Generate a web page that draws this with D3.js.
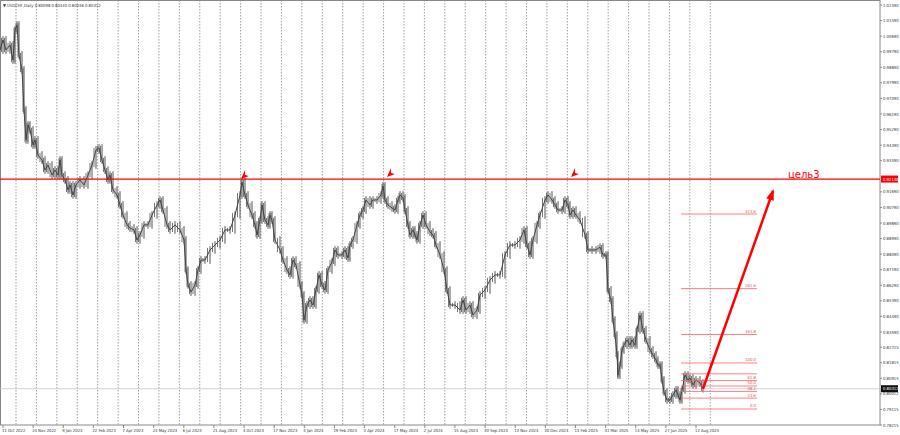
<!DOCTYPE html>
<html><head><meta charset="utf-8">
<script src="https://cdn.jsdelivr.net/npm/d3@7"></script>
<style>body{margin:0;background:#fff}svg{display:block}</style></head>
<body><svg id="c" width="900" height="435"></svg>
<script>
// [bar index, close]
const closes = [[0,0.9989],[3,1.0047],[6,0.9989],[10,1.0018],[13,0.9931],[15,1.0105],[17,1.0133],[19,0.9960],[22,0.9873],[24,0.9642],[26,0.9469],[28,0.9555],[30,0.9527],[33,0.9440],[35,0.9469],[38,0.9382],[42,0.9353],[45,0.9295],[48,0.9324],[52,0.9266],[55,0.9295],[58,0.9266],[60,0.9353],[62,0.9266],[65,0.9238],[68,0.9180],[70,0.9209],[73,0.9151],[76,0.9209],[80,0.9238],[84,0.9209],[88,0.9266],[92,0.9324],[96,0.9411],[99,0.9423],[102,0.9353],[105,0.9295],[108,0.9238],[110,0.9266],[113,0.9180],[117,0.9151],[120,0.9093],[123,0.9035],[127,0.8978],[130,0.8960],[134,0.8949],[137,0.8891],[140,0.8920],[144,0.8978],[148,0.8978],[152,0.9035],[157,0.9093],[160,0.9122],[163,0.9064],[167,0.8978],[170,0.8949],[175,0.8978],[180,0.8949],[184,0.8891],[186,0.8717],[188,0.8631],[191,0.8590],[195,0.8631],[198,0.8717],[201,0.8775],[205,0.8775],[210,0.8833],[215,0.8862],[220,0.8891],[225,0.8949],[230,0.8949],[235,0.9035],[240,0.9151],[242,0.9226],[245,0.9151],[248,0.9093],[252,0.9035],[255,0.8978],[257,0.8920],[260,0.9006],[262,0.9093],[265,0.9006],[268,0.8978],[270,0.9035],[272,0.9006],[275,0.8891],[280,0.8833],[283,0.8775],[287,0.8717],[290,0.8689],[293,0.8775],[296,0.8746],[300,0.8631],[302,0.8573],[304,0.8428],[307,0.8515],[310,0.8544],[313,0.8515],[316,0.8602],[319,0.8689],[322,0.8631],[325,0.8602],[328,0.8717],[332,0.8764],[335,0.8833],[338,0.8804],[342,0.8804],[345,0.8833],[348,0.8787],[350,0.8862],[353,0.8891],[357,0.8978],[360,0.9035],[363,0.9064],[366,0.9122],[370,0.9093],[373,0.9122],[377,0.9122],[381,0.9151],[383,0.9203],[385,0.9122],[388,0.9093],[392,0.9076],[395,0.9064],[398,0.9122],[400,0.9151],[403,0.9134],[405,0.9064],[408,0.8978],[410,0.8920],[413,0.8949],[415,0.8920],[417,0.8891],[420,0.8978],[423,0.9035],[426,0.8978],[430,0.8937],[433,0.8920],[436,0.8862],[440,0.8804],[444,0.8717],[447,0.8602],[450,0.8515],[455,0.8515],[460,0.8486],[463,0.8544],[466,0.8486],[470,0.8515],[473,0.8457],[477,0.8486],[480,0.8573],[485,0.8602],[490,0.8660],[495,0.8689],[500,0.8689],[505,0.8804],[510,0.8862],[515,0.8862],[520,0.8891],[524,0.8949],[527,0.8862],[530,0.8804],[533,0.8891],[537,0.8978],[540,0.9035],[545,0.9122],[548,0.9151],[552,0.9122],[555,0.9093],[558,0.9064],[562,0.9064],[565,0.9122],[568,0.9093],[570,0.9035],[573,0.9064],[576,0.9035],[580,0.9006],[585,0.8920],[588,0.8833],[592,0.8833],[596,0.8833],[600,0.8850],[603,0.8804],[606,0.8804],[608,0.8602],[611,0.8544],[613,0.8428],[615,0.8342],[617,0.8226],[618,0.8110],[620,0.8168],[622,0.8255],[624,0.8284],[627,0.8313],[630,0.8284],[632,0.8313],[635,0.8284],[637,0.8371],[640,0.8457],[643,0.8371],[646,0.8313],[650,0.8255],[653,0.8226],[656,0.8197],[658,0.8168],[660,0.8168],[662,0.8082],[664,0.8012],[667,0.7966],[670,0.7966],[673,0.7995],[676,0.8024],[678,0.7995],[680,0.7966],[682,0.8024],[685,0.8110],[688,0.8082],[690,0.8093],[693,0.8053],[696,0.8082],[700,0.8064],[703,0.8031]];
const priceTicks = [1.02490,1.01590,1.00690,0.99790,0.98890,0.97990,0.97090,0.96190,0.95290,0.94390,0.93490,0.91690,0.90790,0.89890,0.88990,0.88090,0.87190,0.86290,0.85390,0.84490,0.83590,0.82715,0.81815,0.80915,0.80012,0.79115,0.78215];
const dateLabels = ["11 Oct 2022","24 Nov 2022","9 Jan 2023","22 Feb 2023","7 Apr 2023","23 May 2023","6 Jul 2023","21 Aug 2023","4 Oct 2023","17 Nov 2023","4 Jan 2024","19 Feb 2024","3 Apr 2024","17 May 2024","2 Jul 2024","15 Aug 2024","30 Sep 2024","13 Nov 2024","30 Dec 2024","13 Feb 2025","31 Mar 2025","14 May 2025","27 Jun 2025","12 Aug 2025"];
const fibLevels = [0,23.6,38.2,50,61.8,76.4,100,161.8,261.6,423.6];
const fibLabelled = ["0.0","23.6","38.2","50.0","61.8","","100.0","161.8","261.6","423.6"];
const fibLow = 0.7914, fibHigh = 0.8180;
const resistance = 0.9243, resistanceLabel = "0.92138";
const lastPrice = 0.80312;
const peaks = [[244,0.9255],[390,0.9267],[574,0.9267]];
const arrowFrom = [703,0.8031], arrowTo = [773,0.9174];
const title = "USDCHF,Daily  0.80098 0.80340 0.80036 0.80312";

const svg = d3.select("#c");
const W=880, H=425;
const FS=4.2, FF="Liberation Sans Narrow, DejaVu Sans Condensed, Liberation Sans";
const x = d3.scaleLinear().domain([0,880]).range([0,W]);
const y = d3.scaleLinear().domain([0.78215,1.02490]).range([425,5]);
const dayDomain = d3.scaleLinear().domain([0,23]).range([2,695]);

const g = svg.append("g");
d3.range(16,715,20.42).forEach(v=>g.append("line").attr("x1",v).attr("x2",v).attr("y1",0).attr("y2",H)
  .attr("stroke","#777").attr("stroke-width",0.7).attr("stroke-dasharray","1.5,1.5"));
svg.append("rect").attr("x",0.5).attr("y",0.5).attr("width",W-0.5).attr("height",H-0.5).attr("fill","none").attr("stroke","#888");

svg.append("line").attr("x1",0).attr("x2",W).attr("y1",y(lastPrice)).attr("y2",y(lastPrice)).attr("stroke","#c8c8c8").attr("stroke-width",0.8);

const bars = svg.append("g");
for(let i=1;i<closes.length;i++){
  const a=closes[i-1], b=closes[i];
  const lo=Math.min(a[1],b[1])-0.0022, hi=Math.max(a[1],b[1])+0.0022;
  bars.append("line").attr("x1",x(b[0])).attr("x2",x(b[0])).attr("y1",y(lo)).attr("y2",y(hi)).attr("stroke","#555").attr("stroke-width",1);
  bars.append("line").attr("x1",x((a[0]+b[0])/2)).attr("x2",x((a[0]+b[0])/2)).attr("y1",y(lo+0.001)).attr("y2",y(hi-0.001)).attr("stroke","#666").attr("stroke-width",0.9);
}
svg.append("path").datum(closes).attr("d",d3.line().x(d=>x(d[0])).y(d=>y(d[1]))).attr("fill","none").attr("stroke","#444").attr("stroke-width",1);

svg.append("line").attr("x1",0).attr("x2",W).attr("y1",y(resistance)).attr("y2",y(resistance)).attr("stroke","#f00").attr("stroke-width",1.3);

const fib = svg.append("g");
fibLevels.forEach((l,i)=>{
  const v = fibLow + (fibHigh-fibLow)*l/100;
  fib.append("line").attr("x1",x(681)).attr("x2",x(757)).attr("y1",y(v)).attr("y2",y(v)).attr("stroke","#ff6060").attr("stroke-width",0.8);
  if(fibLabelled[i]) fib.append("text").attr("x",x(756)).attr("y",y(v)-1.5).attr("text-anchor","end").attr("font-size",FS).attr("fill","#e05050").attr("font-family",FF).text(fibLabelled[i]);
});

peaks.forEach(p=>{
  const px=x(p[0]), py=y(p[1]);
  svg.append("path").attr("d",`M${px-3},${py+2} L${px+1},${py-7} L${px+1},${py-2} L${px+5},${py-1} Z`).attr("fill","#f00");
});

svg.append("line").attr("x1",x(arrowFrom[0])).attr("y1",y(arrowFrom[1])).attr("x2",x(arrowTo[0])).attr("y2",y(arrowTo[1])).attr("stroke","#f00").attr("stroke-width",2.5);
{
  const x2=x(arrowTo[0]), y2=y(arrowTo[1]), x1=x(arrowFrom[0]), y1=y(arrowFrom[1]);
  const ang=Math.atan2(y2-y1,x2-x1), L=9, w=4;
  const bx=x2-L*Math.cos(ang), by=y2-L*Math.sin(ang);
  const px=-Math.sin(ang)*w, py=Math.cos(ang)*w;
  svg.append("path").attr("d",`M${x2+2*Math.cos(ang)},${y2+2*Math.sin(ang)} L${bx+px},${by+py} L${bx-px},${by-py} Z`).attr("fill","#f00");
}
svg.append("text").attr("x",788).attr("y",y(resistance)-1).attr("font-size",10).attr("fill","#f00").attr("font-family","DejaVu Sans").text("цель3");

const ax = svg.append("g").attr("font-family",FF).attr("font-size",FS).attr("fill","#333");
priceTicks.forEach(t=>{
  ax.append("line").attr("x1",W).attr("x2",W+2).attr("y1",y(t)).attr("y2",y(t)).attr("stroke","#888");
  ax.append("text").attr("x",W+3).attr("y",y(t)+1.5).text(t.toFixed(5));
});
svg.append("rect").attr("x",W+1).attr("y",y(resistance)-3.5).attr("width",17).attr("height",7).attr("fill","#f00");
svg.append("text").attr("x",W+3).attr("y",y(resistance)+1.5).attr("font-size",FS).attr("fill","#fff").attr("font-family",FF).text(resistanceLabel);
svg.append("rect").attr("x",W+1).attr("y",y(lastPrice)-3.5).attr("width",17).attr("height",7).attr("fill","#111");
svg.append("text").attr("x",W+3).attr("y",y(lastPrice)+1.5).attr("font-size",FS).attr("fill","#fff").attr("font-family",FF).text(lastPrice.toFixed(5));

dateLabels.forEach((d,i)=>{
  const xx=dayDomain(i);
  svg.append("line").attr("x1",xx+1).attr("x2",xx+1).attr("y1",H).attr("y2",H+3).attr("stroke","#888");
  svg.append("text").attr("x",xx).attr("y",432).attr("font-size",FS).attr("fill","#333").attr("font-family",FF).text(d);
});
svg.append("text").attr("x",3).attr("y",7).attr("font-size",FS).attr("fill","#333").attr("font-family",FF).text("▼ "+title);
</script></body></html>
